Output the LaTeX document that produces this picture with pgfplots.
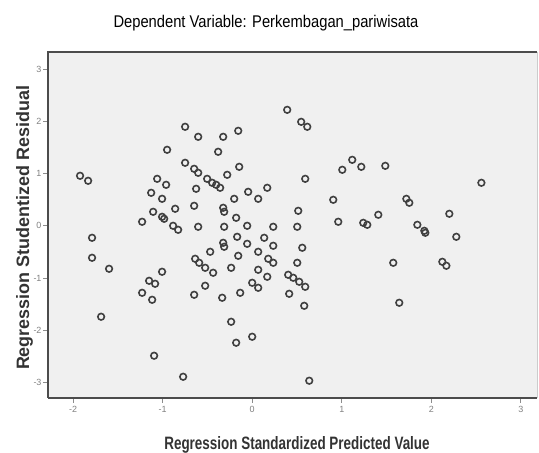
\documentclass[border=0pt]{standalone}
\usepackage{fontspec}
\setmainfont{Liberation Sans}
\newfontfamily\titlefont{Liberation Sans}[FakeStretch=0.87]
\newfontfamily\xlabfont{Liberation Sans}[FakeStretch=0.75]
\usepackage{pgfplots}
\pgfplotsset{compat=1.18}

% residuals vs predicted
\pgfplotstableread{
x y
-1.922 0.958
-1.832 0.862
-1.788 -0.230
-1.788 -0.613
-1.598 -0.824
-1.687 -1.743
-1.229 0.077
-1.128 0.632
-1.106 0.268
-1.061 0.900
-0.961 0.785
-1.006 0.517
-1.006 0.172
-0.983 0.134
-0.860 0.326
-0.883 0.000
-0.827 -0.077
-0.950 1.456
-1.095 -2.490
-1.006 -0.881
-1.151 -1.054
-1.084 -1.111
-1.229 -1.284
-1.117 -1.418
-0.771 -2.893
-0.749 1.897
-0.749 1.207
-0.648 1.092
-0.603 1.015
-0.626 0.709
-0.648 0.383
-0.603 -0.019
-0.603 1.705
-0.637 -0.632
-0.592 -0.709
-0.648 -1.322
-0.525 -1.149
-0.525 -0.805
-0.469 -0.498
-0.436 -0.900
-0.503 0.900
-0.447 0.824
-0.402 0.785
-0.358 0.728
-0.380 1.418
-0.324 1.705
-0.279 0.977
-0.156 1.820
-0.145 1.130
-0.324 0.345
-0.313 0.268
-0.201 0.517
-0.179 0.153
-0.313 -0.019
-0.045 0.651
0.067 0.517
-0.056 0.000
0.168 0.728
0.235 -0.019
-0.168 -0.211
-0.056 -0.345
-0.324 -0.326
-0.313 -0.402
-0.335 -1.379
-0.235 -0.805
-0.156 -0.575
-0.235 -1.839
-0.179 -2.241
0.000 -2.126
-0.134 -1.284
0.067 -0.498
0.067 -0.843
0.179 -0.632
0.235 -0.709
0.168 -0.977
0.000 -1.092
0.067 -1.188
0.134 -0.230
0.235 -0.383
0.559 -0.421
0.503 -0.709
0.503 -0.019
0.514 0.287
0.592 0.900
0.391 2.222
0.547 1.992
0.615 1.897
0.402 -0.939
0.458 -0.996
0.525 -1.073
0.592 -1.169
0.413 -1.303
0.581 -1.533
0.637 -2.969
1.006 1.073
1.117 1.264
1.218 1.130
1.486 1.149
0.905 0.498
0.961 0.077
1.240 0.057
1.285 0.019
1.408 0.211
1.721 0.517
1.754 0.441
1.844 0.019
1.922 -0.096
1.933 -0.134
2.201 0.230
2.279 -0.211
2.559 0.824
1.575 -0.709
2.123 -0.690
2.168 -0.766
1.642 -1.475
}\resid

\begin{document}
\begin{tikzpicture}
\useasboundingbox (0,0) rectangle (539bp,453bp);
\begin{axis}[
    at={(48bp,55bp)}, anchor=south west,
    scale only axis,
    width=489bp, height=346bp,
    xmin=-2.28, xmax=3.18,
    ymin=-3.3, ymax=3.33,
    xtick={-2,-1,0,1,2,3},
    ytick={-3,-2,-1,0,1,2,3},
    xtick pos=bottom, ytick pos=left,
    tick align=outside,
    major tick length=5bp,
    tick style={black!45, line width=0.8pt},
    axis line style={draw=none},
    axis background/.style={fill=black!6},
    ticklabel style={font=\fontsize{9}{9}\selectfont, text=black!50},
    yticklabel style={xshift=2bp},
    /pgf/number format/assume math mode=true,
    clip=false,
]
    \addplot[only marks, mark=o, mark size=3.3bp,
        mark options={draw=black!75, line width=1.6pt}] table {\resid};
    \draw[black!70, line width=1.4pt] (rel axis cs:0,0) -- (rel axis cs:1,0);
    \draw[black!70, line width=1.4pt] (rel axis cs:0,0) -- (rel axis cs:0,1) -- (rel axis cs:1,1);
    \draw[black!20, line width=0.8pt] (rel axis cs:1,0) -- (rel axis cs:1,1);
\end{axis}
\node[anchor=base, font=\titlefont\fontsize{17}{17}\selectfont, text=black]
    at (266bp,425bp) {Dependent Variable: Perkembagan\_pariwisata};
\node[anchor=base, font=\xlabfont\bfseries\fontsize{18}{18}\selectfont, text=black!80]
    at (297bp,4bp) {Regression Standardized Predicted Value};
\node[anchor=base, rotate=90, font=\bfseries\fontsize{18}{18}\selectfont, text=black!80]
    at (29bp,225bp) {Regression Studentized Residual};
\end{tikzpicture}
\end{document}
